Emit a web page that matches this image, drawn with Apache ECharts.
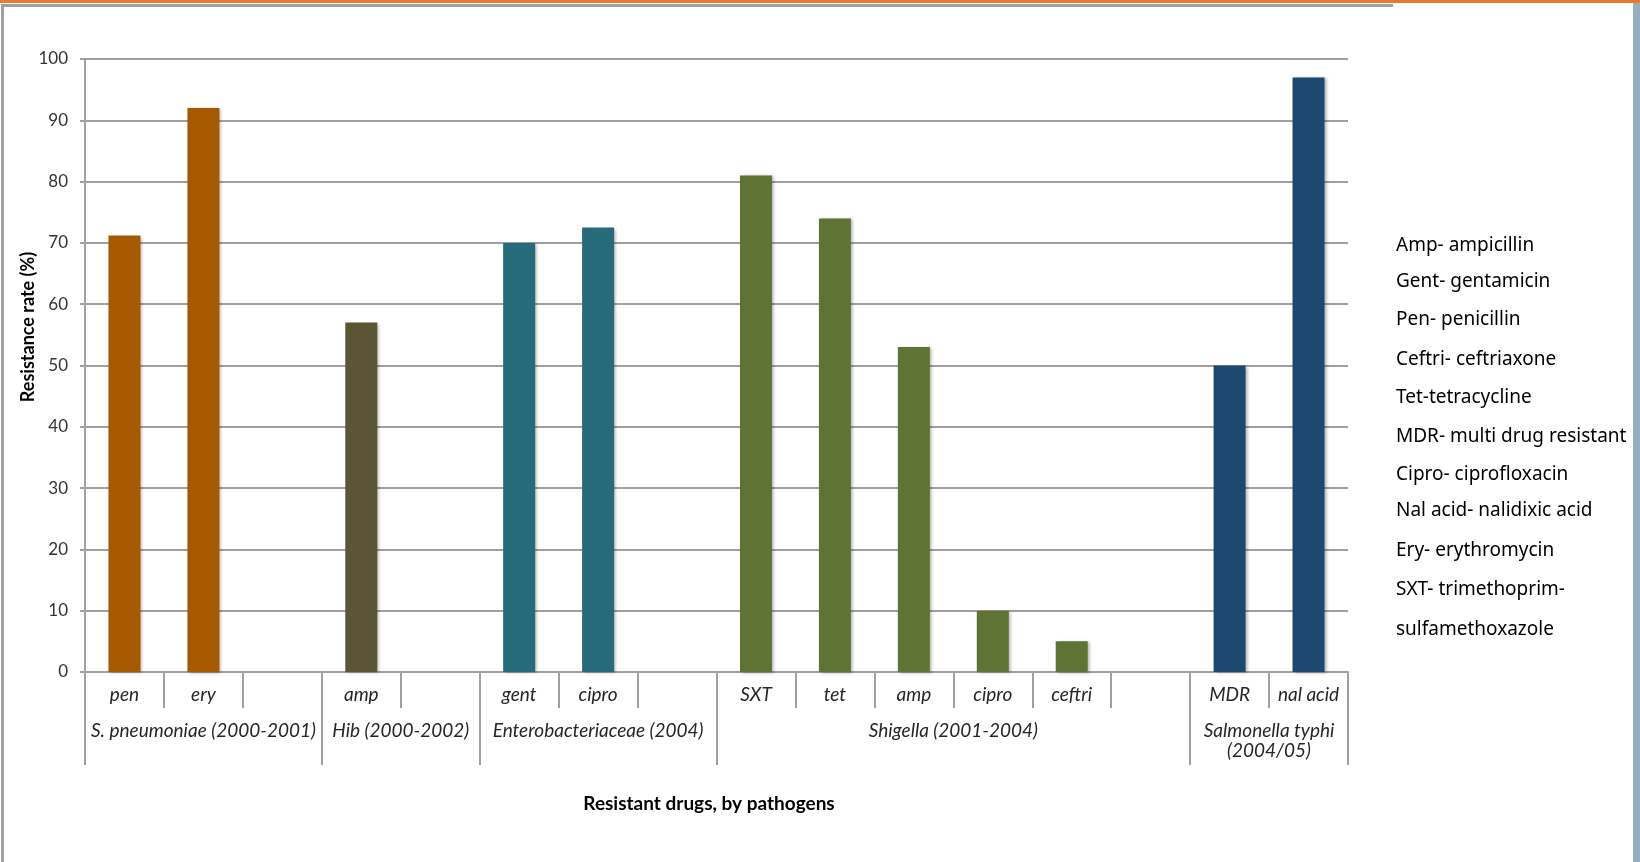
<!DOCTYPE html>
<html>
<head>
<meta charset="utf-8">
<script src="https://cdn.jsdelivr.net/npm/echarts@6/dist/echarts.min.js"></script>
<style>
	html, body { margin: 0; padding: 0; background: #fff; }
	#chart { width: 1640px; height: 862px; }
</style>
</head>
<body>
<div id="chart"></div>
<script>
// drug per slot, blanks are the empty gaps between pathogens
const drugs = ['pen', 'ery', '', 'amp', '', 'gent', 'cipro', '', 'SXT', 'tet', 'amp', 'cipro', 'ceftri', '', 'MDR', 'nal acid'];
const rates = [71.2, 92, null, 57, null, 70, 72.5, null, 81, 74, 53, 10, 5, null, 50, 97];

const pathogens = ['S. pneumoniae (2000-2001)', 'Hib (2000-2002)', 'Enterobacteriaceae (2004)', 'Shigella (2001-2004)', 'Salmonella typhi\n(2004/05)'];
const pathogenSlots = [3, 2, 3, 6, 2];
const pathogenColors = ['#a65a00', '#5c5535', '#276b7b', '#5f7334', '#1f4870'];

const abbreviations = [
	'Amp- ampicillin',
	'Gent- gentamicin',
	'Pen- penicillin',
	'Ceftri- ceftriaxone',
	'Tet-tetracycline',
	'MDR- multi drug resistant',
	'Cipro- ciprofloxacin',
	'Nal acid- nalidixic acid',
	'Ery- erythromycin',
	'SXT- trimethoprim-',
	'sulfamethoxazole'
];
const abbrevY = [246, 282, 320, 360, 398, 437, 475, 511, 551, 590, 630];

// which pathogen each slot belongs to
let groupOf = [];
pathogenSlots.forEach((n, g) => {
	for (let i = 0; i < n; i++) groupOf.push(g);
});

// second axis runs on half slots so every group centre / edge is a tick
let halfLabels = new Array(drugs.length * 2 + 1).fill('');
let edges = new Set([0]);
let s = 0;
pathogenSlots.forEach((n, g) => {
	halfLabels[2 * s + n] = pathogens[g];
	s += n;
	edges.add(2 * s);
});

const gray = '#a0a0a0';
const txt = '#262626';

var chart = echarts.init(document.getElementById('chart'));
var option = {
	animation: false,
	backgroundColor: '#fff',
	grid: { left: 85, right: 292, top: 59, bottom: 190 },
	xAxis: [
		{
			type: 'category',
			data: drugs,
			position: 'bottom',
			axisLine: { lineStyle: { color: gray, width: 2 } },
			axisTick: { show: true, interval: 0, length: 36, lineStyle: { color: gray, width: 2 } },
			axisLabel: {
				interval: 0,
				margin: 13,
				color: txt,
				fontFamily: 'Lato',
				fontStyle: 'italic',
				fontSize: 19
			}
		},
		{
			type: 'category',
			data: halfLabels,
			boundaryGap: false,
			position: 'bottom',
			axisLine: { show: false },
			axisTick: {
				show: true,
				interval: (i) => edges.has(i),
				length: 93,
				lineStyle: { color: gray, width: 2 }
			},
			axisLabel: {
				interval: 0,
				margin: 49,
				color: txt,
				fontFamily: 'Lato',
				fontStyle: 'italic',
				fontSize: 19,
				lineHeight: 20,
				align: 'center'
			}
		}
	],
	yAxis: {
		type: 'value',
		min: 0,
		max: 100,
		interval: 10,
		axisLine: { show: true, lineStyle: { color: gray, width: 2 } },
		axisTick: { show: true, length: 5, lineStyle: { color: gray, width: 2 } },
		splitLine: { lineStyle: { color: gray, width: 2 } },
		axisLabel: { margin: 17, color: '#333', fontFamily: 'Lato', fontSize: 17 }
	},
	series: [
		{
			type: 'bar',
			xAxisIndex: 0,
			barWidth: 32,
			data: rates.map((v, i) => ({
				value: v,
				itemStyle: { color: pathogenColors[groupOf[i]] }
			})),
			itemStyle: {
				shadowBlur: 3,
				shadowColor: 'rgba(0,0,0,0.3)',
				shadowOffsetX: 2,
				shadowOffsetY: 1
			}
		}
	],
	graphic: [
		// slide frame
		{ type: 'rect', shape: { x: 0, y: 0, width: 1640, height: 3 }, style: { fill: '#e8792f' } },
		{ type: 'rect', shape: { x: 1, y: 4, width: 1392, height: 3 }, style: { fill: gray } },
		{ type: 'rect', shape: { x: 1, y: 4, width: 3, height: 858 }, style: { fill: gray } },
		{ type: 'rect', shape: { x: 1633, y: 3, width: 7, height: 859 }, style: { fill: '#93afc5' } },
		// axis titles
		{
			type: 'text',
			x: 28,
			y: 327,
			rotation: Math.PI / 2,
			style: {
				text: 'Resistance rate (%)',
				font: 'bold 18px Lato',
				fill: '#000',
				textAlign: 'center',
				textVerticalAlign: 'middle'
			}
		},
		{
			type: 'text',
			x: 709,
			y: 804,
			style: {
				text: 'Resistant drugs, by pathogens',
				font: 'bold 19px Lato',
				fill: '#000',
				textAlign: 'center',
				textVerticalAlign: 'middle'
			}
		}
	].concat(abbreviations.map((t, i) => ({
		type: 'text',
		x: 1396,
		y: abbrevY[i],
		style: {
			text: t,
			font: '19px "Noto Sans"',
			fill: '#000',
			textAlign: 'left',
			textVerticalAlign: 'middle'
		}
	})))
};
option && chart.setOption(option);
</script>
</body>
</html>
